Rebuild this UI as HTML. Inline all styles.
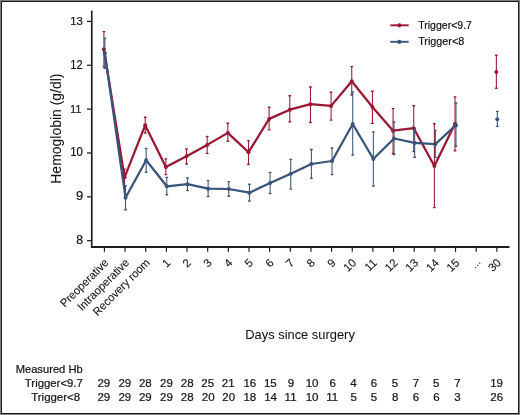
<!DOCTYPE html>
<html><head><meta charset="utf-8"><style>
html,body{margin:0;padding:0;}
body{width:520px;height:415px;background:#7f7f7f;position:relative;overflow:hidden;}
#f{position:absolute;left:1px;top:1px;width:518px;height:413px;box-sizing:border-box;border:1px solid #1c1c1c;background:#fff;}
svg{position:absolute;left:0;top:0;will-change:transform;}
</style></head><body><div id="f"></div>
<svg width="520" height="415" viewBox="0 0 520 415">
<g stroke="#141414" fill="none">
<path d="M91.75 10.6V247.9" stroke-width="1.65" stroke="#1f1f1f"/>
<path d="M90.95 247H509.5" stroke-width="1.9" stroke="#1f1f1f"/>
<path d="M87 21.40H92" stroke-width="1.2"/>
<path d="M87 65.26H92" stroke-width="1.2"/>
<path d="M87 109.12H92" stroke-width="1.2"/>
<path d="M87 152.98H92" stroke-width="1.2"/>
<path d="M87 196.84H92" stroke-width="1.2"/>
<path d="M87 240.70H92" stroke-width="1.2"/>
<path d="M104.40 247V251.8" stroke-width="1.15"/>
<path d="M125.06 247V251.8" stroke-width="1.15"/>
<path d="M145.71 247V251.8" stroke-width="1.15"/>
<path d="M166.37 247V251.8" stroke-width="1.15"/>
<path d="M187.02 247V251.8" stroke-width="1.15"/>
<path d="M207.68 247V251.8" stroke-width="1.15"/>
<path d="M228.33 247V251.8" stroke-width="1.15"/>
<path d="M248.99 247V251.8" stroke-width="1.15"/>
<path d="M269.64 247V251.8" stroke-width="1.15"/>
<path d="M290.30 247V251.8" stroke-width="1.15"/>
<path d="M310.95 247V251.8" stroke-width="1.15"/>
<path d="M331.61 247V251.8" stroke-width="1.15"/>
<path d="M352.26 247V251.8" stroke-width="1.15"/>
<path d="M372.91 247V251.8" stroke-width="1.15"/>
<path d="M393.57 247V251.8" stroke-width="1.15"/>
<path d="M414.23 247V251.8" stroke-width="1.15"/>
<path d="M434.88 247V251.8" stroke-width="1.15"/>
<path d="M455.53 247V251.8" stroke-width="1.15"/>
<path d="M476.19 247V251.8" stroke-width="1.15"/>
<path d="M496.85 247V251.8" stroke-width="1.15"/>
</g>
<g font-family="Liberation Sans" fill="#141414" stroke="#141414" stroke-width="0.22">
<text x="418.19" y="28.80" font-size="11.45" textLength="53.79" lengthAdjust="spacingAndGlyphs" fill="#141414">Trigger&lt;9.7</text>
<text x="418.18" y="44.90" font-size="11.01" textLength="46.05" lengthAdjust="spacingAndGlyphs" fill="#141414">Trigger&lt;8</text>
<text x="15.66" y="372.80" font-size="10.87" textLength="67.02" lengthAdjust="spacingAndGlyphs" fill="#141414">Measured Hb</text>
<text x="24.87" y="386.90" font-size="11.74" textLength="57.95" lengthAdjust="spacingAndGlyphs" fill="#141414">Trigger&lt;9.7</text>
<text x="31.27" y="401.00" font-size="11.30" textLength="48.79" lengthAdjust="spacingAndGlyphs" fill="#141414">Trigger&lt;8</text>
<text x="245.27" y="338.70" font-size="12.90" textLength="109.57" lengthAdjust="spacingAndGlyphs" fill="#141414" stroke-width="0.05">Days since surgery</text>
<text x="70.19" y="24.68" font-size="11.69" textLength="12.58" lengthAdjust="spacingAndGlyphs" fill="#141414">13</text>
<text x="70.21" y="68.80" font-size="12.14" textLength="12.37" lengthAdjust="spacingAndGlyphs" fill="#141414">12</text>
<text x="70.36" y="112.80" font-size="11.45" textLength="10.84" lengthAdjust="spacingAndGlyphs" fill="#141414">11</text>
<text x="70.19" y="156.48" font-size="12.11" textLength="12.70" lengthAdjust="spacingAndGlyphs" fill="#141414">10</text>
<text x="76.05" y="200.48" font-size="12.11" textLength="7.26" lengthAdjust="spacingAndGlyphs" fill="#141414">9</text>
<text x="76.21" y="244.48" font-size="12.11" textLength="6.75" lengthAdjust="spacingAndGlyphs" fill="#141414">8</text>
<text transform="translate(61.1,183.72) rotate(-90)" font-size="14.35" textLength="110.19" lengthAdjust="spacingAndGlyphs" stroke-width="0.05">Hemoglobin (g/dl)</text>
<text transform="translate(109.20,263.40) rotate(-45)" text-anchor="end" font-size="11.4" stroke-width="0.1" textLength="62.83" lengthAdjust="spacingAndGlyphs">Preoperative</text>
<text transform="translate(129.86,263.40) rotate(-45)" text-anchor="end" font-size="11.4" stroke-width="0.1" textLength="67.76" lengthAdjust="spacingAndGlyphs">Intraoperative</text>
<text transform="translate(150.51,263.40) rotate(-45)" text-anchor="end" font-size="11.4" stroke-width="0.1" textLength="75.13" lengthAdjust="spacingAndGlyphs">Recovery room</text>
<text transform="translate(171.17,263.40) rotate(-45)" text-anchor="end" font-size="11.4" stroke-width="0.1">1</text>
<text transform="translate(191.82,263.40) rotate(-45)" text-anchor="end" font-size="11.4" stroke-width="0.1">2</text>
<text transform="translate(212.48,263.40) rotate(-45)" text-anchor="end" font-size="11.4" stroke-width="0.1">3</text>
<text transform="translate(233.13,263.40) rotate(-45)" text-anchor="end" font-size="11.4" stroke-width="0.1">4</text>
<text transform="translate(253.79,263.40) rotate(-45)" text-anchor="end" font-size="11.4" stroke-width="0.1">5</text>
<text transform="translate(274.44,263.40) rotate(-45)" text-anchor="end" font-size="11.4" stroke-width="0.1">6</text>
<text transform="translate(295.10,263.40) rotate(-45)" text-anchor="end" font-size="11.4" stroke-width="0.1">7</text>
<text transform="translate(315.75,263.40) rotate(-45)" text-anchor="end" font-size="11.4" stroke-width="0.1">8</text>
<text transform="translate(336.41,263.40) rotate(-45)" text-anchor="end" font-size="11.4" stroke-width="0.1">9</text>
<text transform="translate(357.06,263.40) rotate(-45)" text-anchor="end" font-size="11.4" stroke-width="0.1">10</text>
<text transform="translate(377.71,263.40) rotate(-45)" text-anchor="end" font-size="11.4" stroke-width="0.1">11</text>
<text transform="translate(398.37,263.40) rotate(-45)" text-anchor="end" font-size="11.4" stroke-width="0.1">12</text>
<text transform="translate(419.03,263.40) rotate(-45)" text-anchor="end" font-size="11.4" stroke-width="0.1">13</text>
<text transform="translate(439.68,263.40) rotate(-45)" text-anchor="end" font-size="11.4" stroke-width="0.1">14</text>
<text transform="translate(460.33,263.40) rotate(-45)" text-anchor="end" font-size="11.4" stroke-width="0.1">15</text>
<text transform="translate(481.29,262.40) rotate(-45)" text-anchor="end" font-size="9.3" stroke-width="0.1">…</text>
<text transform="translate(501.65,263.40) rotate(-45)" text-anchor="end" font-size="11.4" stroke-width="0.1">30</text>
<text x="97.47" y="387.08" font-size="11.50">29</text>
<text x="97.47" y="401.19" font-size="11.50">29</text>
<text x="118.47" y="387.08" font-size="11.50">29</text>
<text x="118.47" y="401.19" font-size="11.50">29</text>
<text x="138.91" y="387.08" font-size="11.50">28</text>
<text x="138.97" y="401.19" font-size="11.50">29</text>
<text x="160.02" y="387.08" font-size="11.50">29</text>
<text x="160.02" y="401.19" font-size="11.50">29</text>
<text x="180.86" y="387.08" font-size="11.50">28</text>
<text x="180.86" y="401.19" font-size="11.50">28</text>
<text x="201.26" y="387.08" font-size="11.50">25</text>
<text x="201.76" y="401.19" font-size="11.50">20</text>
<text x="221.77" y="387.20" font-size="11.50">21</text>
<text x="222.26" y="401.19" font-size="11.50">20</text>
<text x="243.39" y="387.08" font-size="11.50">16</text>
<text x="243.39" y="401.19" font-size="11.50">18</text>
<text x="263.89" y="387.08" font-size="11.50">15</text>
<text x="264.13" y="401.30" font-size="11.50">14</text>
<text x="287.73" y="387.08" font-size="11.50">9</text>
<text x="284.60" y="401.30" font-size="11.50">11</text>
<text x="305.64" y="387.08" font-size="11.50">10</text>
<text x="305.64" y="401.19" font-size="11.50">10</text>
<text x="329.58" y="387.08" font-size="11.50">6</text>
<text x="326.25" y="401.30" font-size="11.50">11</text>
<text x="350.24" y="387.31" font-size="11.50">4</text>
<text x="350.39" y="401.19" font-size="11.50">5</text>
<text x="370.78" y="387.08" font-size="11.50">6</text>
<text x="370.84" y="401.19" font-size="11.50">5</text>
<text x="391.84" y="387.08" font-size="11.50">5</text>
<text x="392.04" y="401.19" font-size="11.50">8</text>
<text x="412.78" y="387.31" font-size="11.50">7</text>
<text x="412.78" y="401.19" font-size="11.50">6</text>
<text x="433.04" y="387.08" font-size="11.50">5</text>
<text x="433.18" y="401.19" font-size="11.50">6</text>
<text x="454.28" y="387.31" font-size="11.50">7</text>
<text x="454.34" y="401.19" font-size="11.50">3</text>
<text x="490.14" y="387.08" font-size="11.50">19</text>
<text x="490.26" y="401.19" font-size="11.50">26</text>
</g>
<polyline points="103.90,49.20 124.56,177.30 145.21,125.20 165.87,167.00 186.52,156.30 207.18,144.90 227.83,132.90 248.49,152.20 269.14,118.90 289.80,109.70 310.45,104.20 331.11,105.90 351.76,81.20 372.41,107.00 393.07,130.70 413.73,128.20 434.38,166.00 455.03,123.80" fill="none" stroke="#9a1731" stroke-width="2.25" stroke-linejoin="round"/>
<path d="M103.90 31.60V66.70" stroke="#9a1731" stroke-width="1.05"/>
<path d="M103.10 31.60h1.6M103.10 66.70h1.6" stroke="#9a1731" stroke-width="1.4" stroke-linecap="round"/>
<circle cx="103.90" cy="49.20" r="2.0" fill="#9a1731"/>
<path d="M124.56 169.10V185.60" stroke="#9a1731" stroke-width="1.05"/>
<path d="M123.76 169.10h1.6M123.76 185.60h1.6" stroke="#9a1731" stroke-width="1.4" stroke-linecap="round"/>
<circle cx="124.56" cy="177.30" r="2.0" fill="#9a1731"/>
<path d="M145.21 117.20V133.00" stroke="#9a1731" stroke-width="1.05"/>
<path d="M144.41 117.20h1.6M144.41 133.00h1.6" stroke="#9a1731" stroke-width="1.4" stroke-linecap="round"/>
<circle cx="145.21" cy="125.20" r="2.0" fill="#9a1731"/>
<path d="M165.87 158.90V174.60" stroke="#9a1731" stroke-width="1.05"/>
<path d="M165.06 158.90h1.6M165.06 174.60h1.6" stroke="#9a1731" stroke-width="1.4" stroke-linecap="round"/>
<circle cx="165.87" cy="167.00" r="2.0" fill="#9a1731"/>
<path d="M186.52 149.00V164.00" stroke="#9a1731" stroke-width="1.05"/>
<path d="M185.72 149.00h1.6M185.72 164.00h1.6" stroke="#9a1731" stroke-width="1.4" stroke-linecap="round"/>
<circle cx="186.52" cy="156.30" r="2.0" fill="#9a1731"/>
<path d="M207.18 136.50V153.40" stroke="#9a1731" stroke-width="1.05"/>
<path d="M206.38 136.50h1.6M206.38 153.40h1.6" stroke="#9a1731" stroke-width="1.4" stroke-linecap="round"/>
<circle cx="207.18" cy="144.90" r="2.0" fill="#9a1731"/>
<path d="M227.83 123.30V141.30" stroke="#9a1731" stroke-width="1.05"/>
<path d="M227.03 123.30h1.6M227.03 141.30h1.6" stroke="#9a1731" stroke-width="1.4" stroke-linecap="round"/>
<circle cx="227.83" cy="132.90" r="2.0" fill="#9a1731"/>
<path d="M248.49 140.60V164.20" stroke="#9a1731" stroke-width="1.05"/>
<path d="M247.69 140.60h1.6M247.69 164.20h1.6" stroke="#9a1731" stroke-width="1.4" stroke-linecap="round"/>
<circle cx="248.49" cy="152.20" r="2.0" fill="#9a1731"/>
<path d="M269.14 107.30V129.90" stroke="#9a1731" stroke-width="1.05"/>
<path d="M268.34 107.30h1.6M268.34 129.90h1.6" stroke="#9a1731" stroke-width="1.4" stroke-linecap="round"/>
<circle cx="269.14" cy="118.90" r="2.0" fill="#9a1731"/>
<path d="M289.80 95.80V121.80" stroke="#9a1731" stroke-width="1.05"/>
<path d="M289.00 95.80h1.6M289.00 121.80h1.6" stroke="#9a1731" stroke-width="1.4" stroke-linecap="round"/>
<circle cx="289.80" cy="109.70" r="2.0" fill="#9a1731"/>
<path d="M310.45 87.00V122.50" stroke="#9a1731" stroke-width="1.05"/>
<path d="M309.65 87.00h1.6M309.65 122.50h1.6" stroke="#9a1731" stroke-width="1.4" stroke-linecap="round"/>
<circle cx="310.45" cy="104.20" r="2.0" fill="#9a1731"/>
<path d="M331.11 92.30V120.10" stroke="#9a1731" stroke-width="1.05"/>
<path d="M330.31 92.30h1.6M330.31 120.10h1.6" stroke="#9a1731" stroke-width="1.4" stroke-linecap="round"/>
<circle cx="331.11" cy="105.90" r="2.0" fill="#9a1731"/>
<path d="M351.76 66.60V95.00" stroke="#9a1731" stroke-width="1.05"/>
<path d="M350.96 66.60h1.6M350.96 95.00h1.6" stroke="#9a1731" stroke-width="1.4" stroke-linecap="round"/>
<circle cx="351.76" cy="81.20" r="2.0" fill="#9a1731"/>
<path d="M372.41 91.30V123.40" stroke="#9a1731" stroke-width="1.05"/>
<path d="M371.61 91.30h1.6M371.61 123.40h1.6" stroke="#9a1731" stroke-width="1.4" stroke-linecap="round"/>
<circle cx="372.41" cy="107.00" r="2.0" fill="#9a1731"/>
<path d="M393.07 108.60V153.50" stroke="#9a1731" stroke-width="1.05"/>
<path d="M392.27 108.60h1.6M392.27 153.50h1.6" stroke="#9a1731" stroke-width="1.4" stroke-linecap="round"/>
<circle cx="393.07" cy="130.70" r="2.0" fill="#9a1731"/>
<path d="M413.73 105.80V151.60" stroke="#9a1731" stroke-width="1.05"/>
<path d="M412.93 105.80h1.6M412.93 151.60h1.6" stroke="#9a1731" stroke-width="1.4" stroke-linecap="round"/>
<circle cx="413.73" cy="128.20" r="2.0" fill="#9a1731"/>
<path d="M434.38 123.80V207.60" stroke="#9a1731" stroke-width="1.05"/>
<path d="M433.58 123.80h1.6M433.58 207.60h1.6" stroke="#9a1731" stroke-width="1.4" stroke-linecap="round"/>
<circle cx="434.38" cy="166.00" r="2.0" fill="#9a1731"/>
<path d="M455.03 96.90V150.80" stroke="#9a1731" stroke-width="1.05"/>
<path d="M454.23 96.90h1.6M454.23 150.80h1.6" stroke="#9a1731" stroke-width="1.4" stroke-linecap="round"/>
<circle cx="455.03" cy="123.80" r="2.0" fill="#9a1731"/>
<path d="M496.35 55.20V88.30" stroke="#9a1731" stroke-width="1.05"/>
<path d="M495.55 55.20h1.6M495.55 88.30h1.6" stroke="#9a1731" stroke-width="1.4" stroke-linecap="round"/>
<circle cx="496.35" cy="71.90" r="2.0" fill="#9a1731"/>
<polyline points="104.85,53.30 125.51,197.70 146.16,160.20 166.81,186.30 187.47,184.20 208.12,188.70 228.78,189.00 249.44,192.70 270.09,183.10 290.75,173.80 311.40,164.00 332.06,161.00 352.71,124.00 373.36,159.00 394.02,138.50 414.68,142.90 435.33,144.20 455.98,125.20" fill="none" stroke="#39547a" stroke-width="2.25" stroke-linejoin="round"/>
<path d="M104.85 38.30V68.30" stroke="#39547a" stroke-width="1.05"/>
<path d="M104.05 38.30h1.6M104.05 68.30h1.6" stroke="#39547a" stroke-width="1.4" stroke-linecap="round"/>
<circle cx="104.85" cy="53.30" r="2.0" fill="#39547a"/>
<path d="M125.51 185.70V209.70" stroke="#39547a" stroke-width="1.05"/>
<path d="M124.71 185.70h1.6M124.71 209.70h1.6" stroke="#39547a" stroke-width="1.4" stroke-linecap="round"/>
<circle cx="125.51" cy="197.70" r="2.0" fill="#39547a"/>
<path d="M146.16 148.40V172.30" stroke="#39547a" stroke-width="1.05"/>
<path d="M145.36 148.40h1.6M145.36 172.30h1.6" stroke="#39547a" stroke-width="1.4" stroke-linecap="round"/>
<circle cx="146.16" cy="160.20" r="2.0" fill="#39547a"/>
<path d="M166.81 177.40V194.80" stroke="#39547a" stroke-width="1.05"/>
<path d="M166.01 177.40h1.6M166.01 194.80h1.6" stroke="#39547a" stroke-width="1.4" stroke-linecap="round"/>
<circle cx="166.81" cy="186.30" r="2.0" fill="#39547a"/>
<path d="M187.47 178.00V190.60" stroke="#39547a" stroke-width="1.05"/>
<path d="M186.67 178.00h1.6M186.67 190.60h1.6" stroke="#39547a" stroke-width="1.4" stroke-linecap="round"/>
<circle cx="187.47" cy="184.20" r="2.0" fill="#39547a"/>
<path d="M208.12 180.60V196.50" stroke="#39547a" stroke-width="1.05"/>
<path d="M207.32 180.60h1.6M207.32 196.50h1.6" stroke="#39547a" stroke-width="1.4" stroke-linecap="round"/>
<circle cx="208.12" cy="188.70" r="2.0" fill="#39547a"/>
<path d="M228.78 181.60V196.30" stroke="#39547a" stroke-width="1.05"/>
<path d="M227.98 181.60h1.6M227.98 196.30h1.6" stroke="#39547a" stroke-width="1.4" stroke-linecap="round"/>
<circle cx="228.78" cy="189.00" r="2.0" fill="#39547a"/>
<path d="M249.44 184.20V201.00" stroke="#39547a" stroke-width="1.05"/>
<path d="M248.63 184.20h1.6M248.63 201.00h1.6" stroke="#39547a" stroke-width="1.4" stroke-linecap="round"/>
<circle cx="249.44" cy="192.70" r="2.0" fill="#39547a"/>
<path d="M270.09 172.40V193.50" stroke="#39547a" stroke-width="1.05"/>
<path d="M269.29 172.40h1.6M269.29 193.50h1.6" stroke="#39547a" stroke-width="1.4" stroke-linecap="round"/>
<circle cx="270.09" cy="183.10" r="2.0" fill="#39547a"/>
<path d="M290.75 159.40V189.10" stroke="#39547a" stroke-width="1.05"/>
<path d="M289.94 159.40h1.6M289.94 189.10h1.6" stroke="#39547a" stroke-width="1.4" stroke-linecap="round"/>
<circle cx="290.75" cy="173.80" r="2.0" fill="#39547a"/>
<path d="M311.40 149.50V178.20" stroke="#39547a" stroke-width="1.05"/>
<path d="M310.60 149.50h1.6M310.60 178.20h1.6" stroke="#39547a" stroke-width="1.4" stroke-linecap="round"/>
<circle cx="311.40" cy="164.00" r="2.0" fill="#39547a"/>
<path d="M332.06 148.00V174.60" stroke="#39547a" stroke-width="1.05"/>
<path d="M331.25 148.00h1.6M331.25 174.60h1.6" stroke="#39547a" stroke-width="1.4" stroke-linecap="round"/>
<circle cx="332.06" cy="161.00" r="2.0" fill="#39547a"/>
<path d="M352.71 91.90V155.00" stroke="#39547a" stroke-width="1.05"/>
<path d="M351.91 91.90h1.6M351.91 155.00h1.6" stroke="#39547a" stroke-width="1.4" stroke-linecap="round"/>
<circle cx="352.71" cy="124.00" r="2.0" fill="#39547a"/>
<path d="M373.36 131.90V186.00" stroke="#39547a" stroke-width="1.05"/>
<path d="M372.56 131.90h1.6M372.56 186.00h1.6" stroke="#39547a" stroke-width="1.4" stroke-linecap="round"/>
<circle cx="373.36" cy="159.00" r="2.0" fill="#39547a"/>
<path d="M394.02 122.00V154.50" stroke="#39547a" stroke-width="1.05"/>
<path d="M393.22 122.00h1.6M393.22 154.50h1.6" stroke="#39547a" stroke-width="1.4" stroke-linecap="round"/>
<circle cx="394.02" cy="138.50" r="2.0" fill="#39547a"/>
<path d="M414.68 128.50V157.30" stroke="#39547a" stroke-width="1.05"/>
<path d="M413.88 128.50h1.6M413.88 157.30h1.6" stroke="#39547a" stroke-width="1.4" stroke-linecap="round"/>
<circle cx="414.68" cy="142.90" r="2.0" fill="#39547a"/>
<path d="M435.33 130.50V157.40" stroke="#39547a" stroke-width="1.05"/>
<path d="M434.53 130.50h1.6M434.53 157.40h1.6" stroke="#39547a" stroke-width="1.4" stroke-linecap="round"/>
<circle cx="435.33" cy="144.20" r="2.0" fill="#39547a"/>
<path d="M455.98 103.00V146.30" stroke="#39547a" stroke-width="1.05"/>
<path d="M455.18 103.00h1.6M455.18 146.30h1.6" stroke="#39547a" stroke-width="1.4" stroke-linecap="round"/>
<circle cx="455.98" cy="125.20" r="2.0" fill="#39547a"/>
<path d="M497.30 111.40V126.40" stroke="#39547a" stroke-width="1.05"/>
<path d="M496.50 111.40h1.6M496.50 126.40h1.6" stroke="#39547a" stroke-width="1.4" stroke-linecap="round"/>
<circle cx="497.30" cy="119.20" r="2.0" fill="#39547a"/>
<path d="M390.3 25.3H408.7" stroke="#9a1731" stroke-width="1.9"/><circle cx="399.4" cy="25.3" r="2.1" fill="#9a1731"/>
<path d="M390.3 41.8H408.7" stroke="#39547a" stroke-width="1.9"/><circle cx="399.4" cy="41.8" r="2.1" fill="#39547a"/>
</svg></body></html>
